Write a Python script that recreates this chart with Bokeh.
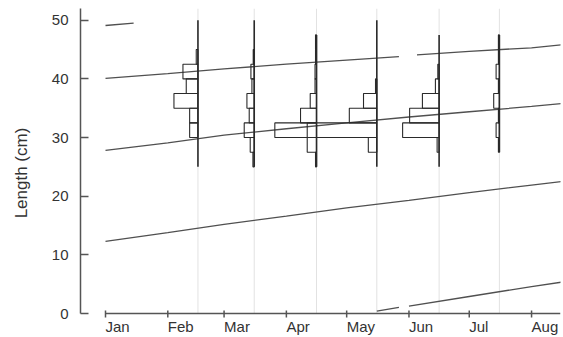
import numpy as np
from bokeh.plotting import figure
from bokeh.models import Range1d, FixedTicker, ColumnDataSource
from bokeh.embed import file_html
from bokeh.resources import INLINE

# ---------------- data ----------------
month_labels = ["Jan", "Feb", "Mar", "Apr", "May", "Jun", "Jul", "Aug"]
month_days = [0, 31, 59, 90, 120, 151, 181, 212]          # day of year of month start
y_ticks = [0, 10, 20, 30, 40, 50]

# sampling dates (day of year) and length-frequency histograms (2.5 cm bins)
sample_days = [46, 74, 105, 135, 166, 196]
bin_lower = [25, 27.5, 30, 32.5, 35, 37.5, 40, 42.5, 45, 47.5]
bin_width = 2.5
freq_feb = [0, 0, 8.3, 8.3, 24, 11.7, 15, 1.7, 0, 0]
freq_mar = [1.3, 4, 10, 5, 7.3, 2.3, 3.3, 1, 0, 0]
freq_apr = [1, 9.3, 9.3, 16, 6.3, 1.5, 1.5, 1, 1, 0]
freq_may = [0, 8.5, 102, 27.5, 13.3, 1.3, 0, 0, 0, 0]
freq_jun = [0, 2, 36.5, 29.5, 16.7, 3.7, 1.3, 0, 0, 0]
freq_jul = [0, 1, 3.3, 1, 5.7, 1, 3.3, 1, 1, 0]
sample_len_min = [25, 25, 25, 25, 25, 27.5]
sample_len_max = [50, 50, 47.5, 50, 47.5, 47.5]

# cohort growth curves (day of year, length cm); NaN = break in the line
cohort1_days = [0, 14]
cohort1_len = [49.1, 49.5]
cohort2_days = [0, 31, 59, 90, 120, 146, np.nan, 155, 181, 212, 227]
cohort2_len = [40.1, 40.9, 41.7, 42.5, 43.2, 43.8, np.nan, 44.1, 44.7, 45.3, 45.8]
cohort3_days = [0, 31, 59, 90, 120, 151, 181, 212, 227]
cohort3_len = [27.8, 29.1, 30.4, 31.5, 32.5, 33.5, 34.4, 35.3, 35.8]
cohort4_days = [0, 31, 59, 90, 120, 151, 181, 212, 227]
cohort4_len = [12.3, 13.8, 15.2, 16.6, 18.0, 19.3, 20.6, 21.9, 22.5]
cohort5_days = [135, 146, np.nan, 151, 181, 212, 227]
cohort5_len = [0.4, 1.05, np.nan, 1.25, 2.9, 4.6, 5.35]

# ---------------- layout / style constants ----------------
X_START, X_END = -12.44, 226.4
Y_TOP = 52.0
PX_PER_CM = 5.866
Y_START = -24 / PX_PER_CM          # room below the zero line for the month axis
HIST_SCALE = 1 / 2.01              # days of x-axis per frequency unit
FONT = "Liberation Sans"
TXT = "#333333"
AXC = "#555555"

p = figure(width=563, height=337,
           x_range=Range1d(X_START, X_END), y_range=Range1d(Y_START, Y_TOP),
           output_backend="svg", toolbar_location=None,
           min_border_left=80, min_border_right=3,
           min_border_top=8, min_border_bottom=0)
p.grid.visible = False
p.outline_line_color = None
p.background_fill_color = "white"
p.border_fill_color = "white"
p.xaxis.visible = False

# light vertical guide lines at sample dates
p.segment(x0=sample_days, y0=0, x1=sample_days, y1=Y_TOP,
          line_color="#e2e2e2", line_width=1)

# growth curves
for xs, ys in [(cohort1_days, cohort1_len), (cohort2_days, cohort2_len),
               (cohort3_days, cohort3_len), (cohort4_days, cohort4_len),
               (cohort5_days, cohort5_len)]:
    p.line(xs, ys, line_color="#505050", line_width=1.3)

# histograms
freqs = [freq_feb, freq_mar, freq_apr, freq_may, freq_jun, freq_jul]
L, R, B, T = [], [], [], []
for d, fr in zip(sample_days, freqs):
    for lo, f in zip(bin_lower, fr):
        if f > 0:
            L.append(d - f * HIST_SCALE)
            R.append(d)
            B.append(lo)
            T.append(lo + bin_width)
hist_src = ColumnDataSource(dict(left=L, right=R, bottom=B, top=T))
p.quad(left="left", right="right", bottom="bottom", top="top", source=hist_src,
       fill_color=None, line_color="#2a2a2a", line_width=1.1)

# histogram base lines
p.segment(x0=sample_days, y0=sample_len_min, x1=sample_days, y1=sample_len_max,
          line_color="#2a2a2a", line_width=1.6)

# ---------------- month axis (drawn below the zero line) ----------------
p.segment(x0=0, y0=0, x1=X_END, y1=0, line_color=AXC, line_width=1.5)
p.segment(x0=month_days, y0=3 / PX_PER_CM, x1=month_days, y1=-4 / PX_PER_CM,
          line_color=AXC, line_width=1.5)
p.text(x=month_days, y=-4 / PX_PER_CM, text=month_labels,
       text_align="left", text_baseline="top",
       text_font={"value": FONT}, text_font_size={"value": "15px"},
       text_color=TXT)

# ---------------- length axis ----------------
ya = p.yaxis[0]
ya.ticker = FixedTicker(ticks=y_ticks)
ya.bounds = (0, Y_TOP)
ya.major_tick_in = 8
ya.major_tick_out = 0
ya.minor_tick_line_color = None
ya.major_label_standoff = 12
ya.axis_line_color = AXC
ya.axis_line_width = 1.5
ya.major_tick_line_color = AXC
ya.major_tick_line_width = 1.5
ya.major_label_text_font = FONT
ya.major_label_text_font_size = "15px"
ya.major_label_text_color = TXT
ya.axis_label = "Length (cm)"
ya.axis_label_text_font = FONT
ya.axis_label_text_font_size = "17px"
ya.axis_label_text_font_style = "normal"
ya.axis_label_text_color = TXT
ya.axis_label_standoff = 18

open("out.html", "w").write(file_html(p, INLINE))
